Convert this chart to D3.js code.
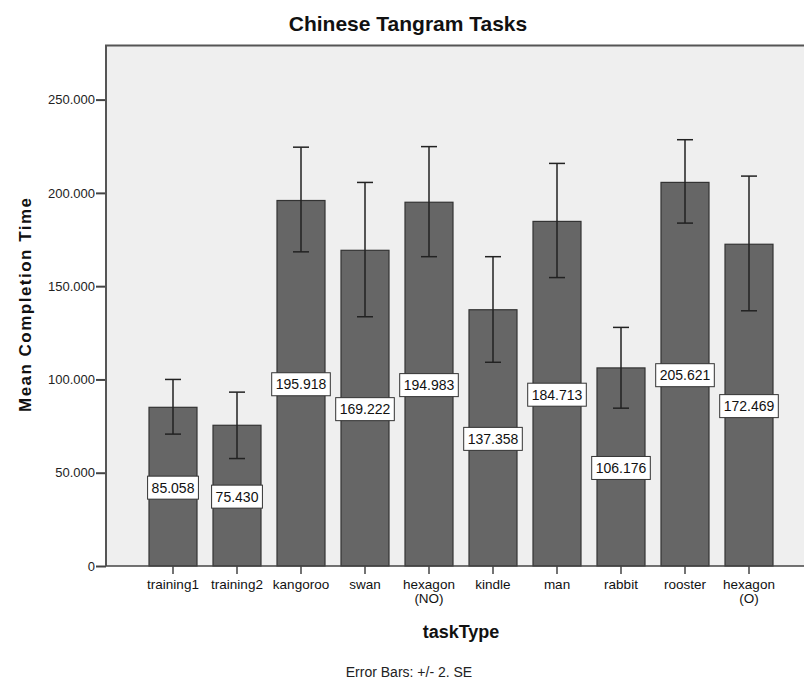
<!DOCTYPE html>
<html>
<head>
<meta charset="utf-8">
<script src="https://cdn.jsdelivr.net/npm/d3@7"></script>
<style>
  body { margin: 0; background: #fff; }
  text { font-family: "Liberation Sans", Arial, sans-serif; }
</style>
</head>
<body>
<div id="chart"></div>
<script>
// categories (second line of a label after "|")
const tasks = ["training1", "training2", "kangoroo", "swan", "hexagon|(NO)",
               "kindle", "man", "rabbit", "rooster", "hexagon|(O)"];
const means = [85.058, 75.430, 195.918, 169.222, 194.983,
               137.358, 184.713, 106.176, 205.621, 172.469];
// +/- 2 SE
const errLow  = [70.7, 57.6, 168.4, 133.6, 165.8, 109.2, 154.6, 84.6, 183.8, 136.8];
const errHigh = [100.0, 93.2, 224.5, 205.6, 224.8, 165.8, 215.8, 127.9, 228.5, 209.0];
const yTicks = [0, 50, 100, 150, 200, 250];

const W = 804, H = 682;
const plot = {left: 106, top: 45.5, right: 806, bottom: 566};

const svg = d3.select("#chart")
    .append("svg")
    .attr("width", W)
    .attr("height", H);

const x = d3.scaleBand()
    .domain(tasks)
    .range([141, 781])
    .paddingInner(0.25)
    .paddingOuter(0.125);

const y = d3.scaleLinear()
    .domain([0, 279])
    .range([plot.bottom, plot.top]);

// plot background
svg.append("rect")
    .attr("x", plot.left)
    .attr("y", plot.top)
    .attr("width", plot.right - plot.left)
    .attr("height", plot.bottom - plot.top)
    .style("fill", "#efefef");

const data = tasks.map((t, i) => ({task: t, mean: means[i], lo: errLow[i], hi: errHigh[i]}));

// bars
svg.selectAll("rect.bar")
    .data(data)
    .join("rect")
    .attr("class", "bar")
    .attr("x", d => x(d.task))
    .attr("y", d => y(d.mean))
    .attr("width", x.bandwidth())
    .attr("height", d => y(0) - y(d.mean))
    .style("fill", "#666666")
    .style("stroke", "#333")
    .style("stroke-width", 1.2);

// error bars
const cx = d => x(d.task) + x.bandwidth() / 2;
const cap = 8;
const eb = svg.append("g").style("stroke", "#222").style("stroke-width", 1.5);
eb.selectAll("line.v")
    .data(data).join("line")
    .attr("x1", cx).attr("x2", cx)
    .attr("y1", d => y(d.lo)).attr("y2", d => y(d.hi));
eb.selectAll("line.hi")
    .data(data).join("line")
    .attr("x1", d => cx(d) - cap).attr("x2", d => cx(d) + cap)
    .attr("y1", d => y(d.hi)).attr("y2", d => y(d.hi));
eb.selectAll("line.lo")
    .data(data).join("line")
    .attr("x1", d => cx(d) - cap).attr("x2", d => cx(d) + cap)
    .attr("y1", d => y(d.lo)).attr("y2", d => y(d.lo));

// value labels in the middle of each bar
const labels = svg.append("g")
    .selectAll("g")
    .data(data)
    .join("g")
    .attr("transform", d => `translate(${cx(d)}, ${y(d.mean / 2) + 1})`);

labels.append("rect")
    .style("fill", "white")
    .style("stroke", "#333")
    .style("stroke-width", 1);

labels.append("text")
    .attr("text-anchor", "middle")
    .attr("dy", "0.36em")
    .attr("font-size", "14px")
    .attr("fill", "#111")
    .text(d => d3.format(".3f")(d.mean));

labels.each(function() {
    const g = d3.select(this);
    const w = g.select("text").node().getComputedTextLength() + 8;
    g.select("rect")
        .attr("x", -w / 2)
        .attr("y", -11.5)
        .attr("width", w)
        .attr("height", 23);
});

// y axis
const yAxis = svg.append("g")
    .attr("transform", `translate(${plot.left},0)`)
    .call(d3.axisLeft(y)
        .tickValues(yTicks)
        .tickSize(10)
        .tickFormat(d => d === 0 ? "0" : d3.format(".3f")(d)));
yAxis.select(".domain").remove();
yAxis.selectAll("line").style("stroke", "#444").style("stroke-width", 2);
yAxis.selectAll("text")
    .attr("x", -11)
    .attr("font-size", "13px")
    .attr("fill", "#222")
    .style("font-family", "'Liberation Sans', Arial, sans-serif");

// x axis
const xAxis = svg.append("g")
    .attr("transform", `translate(0,${plot.bottom})`)
    .call(d3.axisBottom(x).tickSize(8).tickFormat(""));
xAxis.select(".domain").remove();
xAxis.selectAll("line").style("stroke", "#444").style("stroke-width", 1.5);

xAxis.selectAll(".tick")
    .append("text")
    .attr("text-anchor", "middle")
    .attr("font-size", "13.5px")
    .attr("fill", "#111")
    .style("font-family", "'Liberation Sans', Arial, sans-serif")
    .each(function(d) {
        const parts = d.split("|");
        const t = d3.select(this);
        parts.forEach((p, i) => {
            t.append("tspan")
                .attr("x", 0)
                .attr("y", 23 + i * 14)
                .text(p);
        });
    });

// frame: left, top and bottom lines
svg.append("line")
    .attr("x1", plot.left).attr("x2", plot.left)
    .attr("y1", plot.top).attr("y2", plot.bottom)
    .style("stroke", "#555").style("stroke-width", 2);
svg.append("line")
    .attr("x1", plot.left - 1).attr("x2", W)
    .attr("y1", plot.top).attr("y2", plot.top)
    .style("stroke", "#555").style("stroke-width", 2);
svg.append("line")
    .attr("x1", plot.left).attr("x2", W)
    .attr("y1", plot.bottom).attr("y2", plot.bottom)
    .style("stroke", "#444").style("stroke-width", 1.5);

// titles
svg.append("text")
    .attr("x", 408)
    .attr("y", 31)
    .attr("text-anchor", "middle")
    .attr("font-size", "21px")
    .attr("font-weight", "bold")
    .attr("fill", "#111")
    .text("Chinese Tangram Tasks");

svg.append("text")
    .attr("x", 461)
    .attr("y", 638)
    .attr("text-anchor", "middle")
    .attr("font-size", "18px")
    .attr("font-weight", "bold")
    .attr("fill", "#111")
    .text("taskType");

svg.append("text")
    .attr("transform", "translate(31,305) rotate(-90)")
    .attr("text-anchor", "middle")
    .attr("font-size", "17px")
    .attr("font-weight", "bold")
    .attr("fill", "#111")
    .attr("textLength", 214)
    .attr("lengthAdjust", "spacing")
    .text("Mean Completion Time");

svg.append("text")
    .attr("x", 409)
    .attr("y", 677)
    .attr("text-anchor", "middle")
    .attr("font-size", "14px")
    .attr("fill", "#222")
    .text("Error Bars: +/- 2. SE");
</script>
</body>
</html>
